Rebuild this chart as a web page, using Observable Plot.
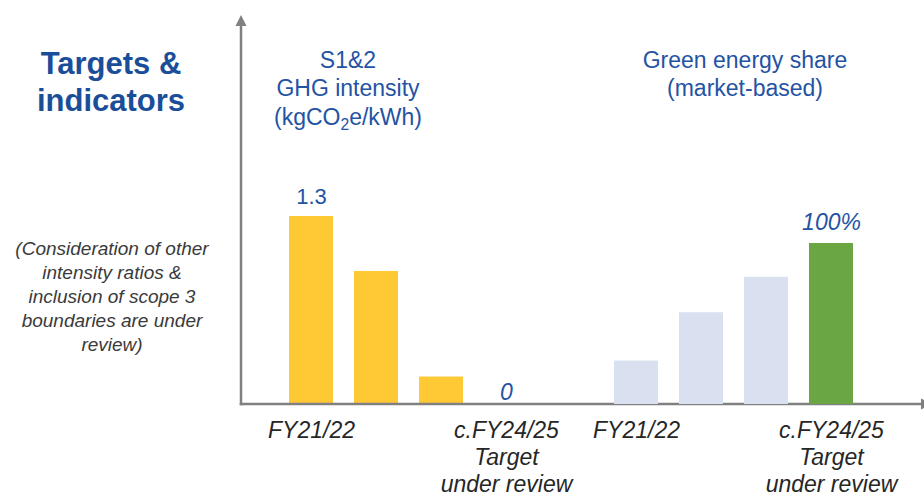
<!DOCTYPE html>
<html><head><meta charset="utf-8">
<script src="https://cdn.jsdelivr.net/npm/d3@7"></script>
<script src="https://cdn.jsdelivr.net/npm/@observablehq/plot@0.6"></script>
<style>
body{margin:0;background:#fff;}
#wrap{position:relative;width:924px;height:498px;overflow:hidden;font-family:"Liberation Sans",Arial,sans-serif;background:#fff;}
.t{position:absolute;text-align:center;white-space:nowrap;}
#title{left:0;width:222px;top:44.5px;font-size:31px;line-height:37.5px;font-weight:bold;color:#1b4e98;}
#sub1{left:228px;width:240px;top:45.8px;font-size:23px;line-height:28.5px;color:#2453a4;}
#sub2{left:605px;width:280px;top:45.8px;font-size:23px;line-height:28.5px;color:#2453a4;}
#sub1 sub{font-size:0.68em;vertical-align:-0.3em;line-height:0;}
#note{left:0;width:224px;top:237.4px;font-size:19px;line-height:24px;font-style:italic;color:#3a3a3a;}
.plot{position:absolute;left:0;top:0;}
</style></head>
<body>
<div id="wrap">
  <div class="t" id="title">Targets &amp;<br>indicators</div>
  <div class="t" id="sub1">S1&amp;2<br>GHG intensity<br>(kgCO<sub>2</sub>e/kWh)</div>
  <div class="t" id="sub2">Green energy share<br>(market-based)</div>
  <div class="t" id="note">(Consideration of other<br>intensity ratios &amp;<br>inclusion of scope 3<br>boundaries are under<br>review)</div>
</div>
<script>
// ---- data ----
const periods = ["FY21/22", "FY22/23", "FY23/24", "c.FY24/25"];
const ghgValues = [1.3, 0.92, 0.19, 0];          // kgCO2e/kWh
const ghgLabels = ["1.3", "", "", "0"];
const greenValues = [27, 57, 79, 100];           // %
const greenLabels = ["", "", "", "100%"];
const tickLabels = ["FY21/22", "", "", "c.FY24/25\nTarget\nunder review"];

const YELLOW = "#ffc935", LIGHT = "#d9e1f1", GREEN = "#6aa643", BLUE = "#2453a4", AXIS = "#808080";

const ghg = periods.map((p, i) => ({slot: "GHG " + p, value: ghgValues[i], label: ghgLabels[i], tick: tickLabels[i]}));
const green = periods.map((p, i) => ({slot: "Green " + p, value: greenValues[i], label: greenLabels[i], tick: tickLabels[i],
  color: i === periods.length - 1 ? GREEN : LIGHT}));
const domain = [...ghg.map(d => d.slot), "gap", ...green.map(d => d.slot)];
const tickMap = new Map([...ghg, ...green].map(d => [d.slot, d.tick]));

const W = 924, H = 498, mL = 241, mR = 0, mT = 15, mB = 94;
const xOpts = () => ({domain, range: [275.4, 866.4], paddingInner: 0.33, paddingOuter: 0.165, label: null});
const common = {width: W, height: H, marginLeft: mL, marginRight: mR, marginTop: mT, marginBottom: mB,
  style: {background: "transparent", fontFamily: '"Liberation Sans", Arial, sans-serif', overflow: "visible"}};

function axesMark(index, scales, values, dim) {
  const g = d3.create("svg:g");
  const x0 = dim.marginLeft, y0 = dim.height - dim.marginBottom, yT = dim.marginTop, xR = dim.width - dim.marginRight - 3;
  g.append("path").attr("d", `M${x0},${y0 + 1.25}V${yT + 9}`).attr("stroke", AXIS).attr("stroke-width", 2.5).attr("fill", "none");
  g.append("path").attr("d", `M${x0 - 5.5},${yT + 11}L${x0},${yT}L${x0 + 5.5},${yT + 11}Z`).attr("fill", AXIS);
  g.append("path").attr("d", `M${x0 - 1.25},${y0}H${xR}`).attr("stroke", AXIS).attr("stroke-width", 2.5).attr("fill", "none");
  g.append("path").attr("d", `M${xR},${y0 - 5.5}L${xR + 11},${y0}L${xR},${y0 + 5.5}Z`).attr("fill", AXIS);
  return g.node();
}

const plot1 = Plot.plot({
  ...common,
  x: xOpts(),
  y: {domain: [0, 1.3], range: [H - mB, 216], axis: null},
  marks: [
    Plot.barY(ghg, {x: "slot", y: "value", fill: YELLOW}),
    Plot.text(ghg.filter(d => d.label && d.value > 0), {x: "slot", y: "value", text: "label", lineAnchor: "bottom",
      dy: -13, fontSize: 22, fill: BLUE}),
    Plot.text(ghg.filter(d => d.label && d.value === 0), {x: "slot", y: "value", text: "label", lineAnchor: "bottom",
      dy: -5, fontSize: 23, fontStyle: "italic", fill: BLUE}),
    Plot.axisX({tickSize: 0, tickPadding: 15, label: null, tickFormat: d => tickMap.get(d) ?? "",
      fontSize: 23, fontStyle: "italic", fill: "#262626", lineHeight: 1.16}),
    axesMark
  ]
});

const plot2 = Plot.plot({
  ...common,
  x: {...xOpts(), axis: null},
  y: {domain: [0, 100], range: [H - mB, 243], axis: null},
  color: {type: "identity"},
  marks: [
    Plot.barY(green, {x: "slot", y: "value", fill: "color"}),
    Plot.text(green.filter(d => d.label), {x: "slot", y: "value", text: "label", lineAnchor: "bottom",
      dy: -14, fontSize: 23, fontStyle: "italic", fill: BLUE})
  ]
});

const wrap = document.getElementById("wrap");
for (const p of [plot1, plot2]) { p.classList.add("plot"); wrap.appendChild(p); }
</script>
</body></html>
